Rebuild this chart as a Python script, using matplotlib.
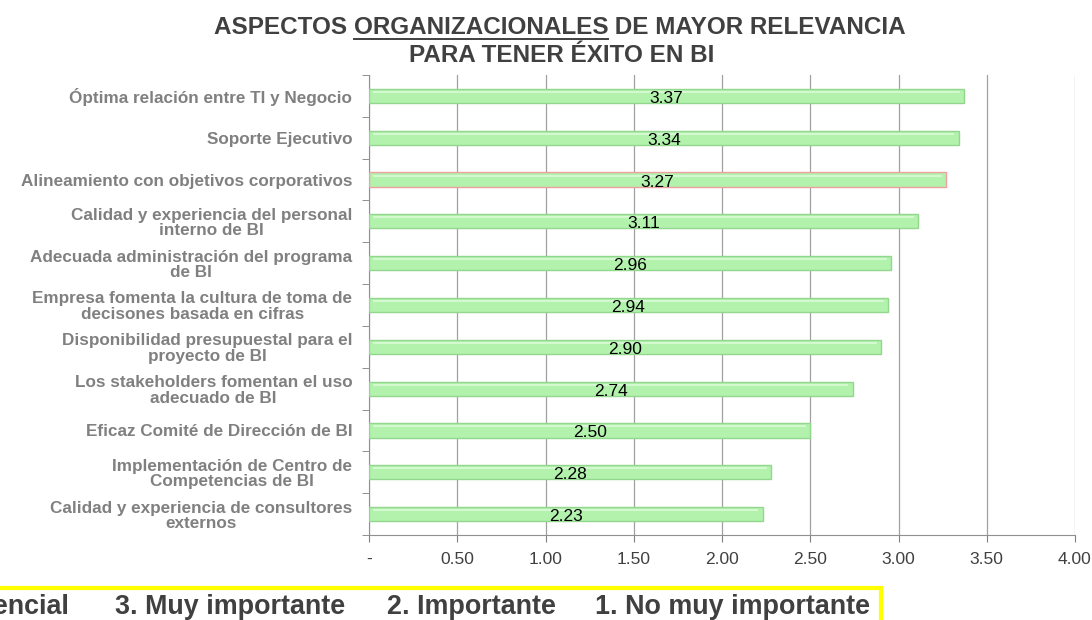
import numpy as np
import matplotlib.pyplot as plt
from matplotlib.patches import Rectangle
from matplotlib.lines import Line2D

plt.rcParams['font.family'] = ['Liberation Sans', 'DejaVu Sans']

# data
categorias = [
    "Óptima relación entre TI y Negocio",
    "Soporte Ejecutivo",
    "Alineamiento con objetivos corporativos",
    "Calidad y experiencia del personal\ninterno de BI",
    "Adecuada administración del programa\nde BI",
    "Empresa fomenta la cultura de toma de\ndecisones basada en cifras",
    "Disponibilidad presupuestal para el\nproyecto de BI",
    "Los stakeholders fomentan el uso\nadecuado de BI",
    "Eficaz Comité de Dirección de BI",
    "Implementación de Centro de\nCompetencias de BI",
    "Calidad y experiencia de consultores\nexternos",
]
valores = [3.37, 3.34, 3.27, 3.11, 2.96, 2.94, 2.90, 2.74, 2.50, 2.28, 2.23]
x_ticks = [0, 0.5, 1.0, 1.5, 2.0, 2.5, 3.0, 3.5, 4.0]
x_labels = ["-", "0.50", "1.00", "1.50", "2.00", "2.50", "3.00", "3.50", "4.00"]
escala = ["4. Esencial", "3. Muy importante", "2. Importante", "1. No muy importante"]

fig = plt.figure(figsize=(10.92, 6.2), dpi=100)
ax = fig.add_axes([369 / 1092, 1 - 535 / 620, (1075 - 369) / 1092, (535 - 75) / 620])

y = np.arange(len(valores))
bars = ax.barh(y, valores, height=0.34, color='#b2f2ad', edgecolor='#93d68e', linewidth=1, zorder=3)
bars[2].set_edgecolor('#f0a0a0')
# glossy highlight line inside each bar
for b, v in zip(bars, valores):
    ax.plot([0.03, v - 0.03], [b.get_y() + b.get_height() * 0.22] * 2, color='#dcfbd9', lw=1.2, zorder=4)
    ax.text(v / 2, b.get_y() + b.get_height() / 2 + 0.06, f"{v:.2f}", ha='center', va='center',
            fontsize=12.5, color='black', zorder=5)

ax.set_ylim(len(valores) - 0.5, -0.5)
ax.set_xlim(0, 4.0)
ax.set_xticks(x_ticks)
ax.set_xticklabels(x_labels, fontsize=12.5, color='#404040')
ax.set_yticks(y)
ax.set_yticklabels(categorias, fontsize=12.3, fontweight='bold', color='#808080', multialignment='center',
                   linespacing=1.05)
ax.set_yticks(np.arange(-0.5, len(valores), 1), minor=True)
ax.tick_params(axis='y', which='major', length=0, pad=12)
ax.tick_params(axis='y', which='minor', length=5, color='#808080')
ax.tick_params(axis='x', length=5, color='#808080', pad=7)
ax.grid(axis='x', color='#a0a0a0', lw=0.9, zorder=0)
for s in ['top', 'right']:
    ax.spines[s].set_visible(False)
for s in ['left', 'bottom']:
    ax.spines[s].set_color('#909090')

# title with underlined word
fig.canvas.draw()
r = fig.canvas.get_renderer()
partes = ["ASPECTOS ", "ORGANIZACIONALES", " DE MAYOR RELEVANCIA"]
kw = dict(fontsize=17.5, fontweight='bold', color='#404040')
tmp = [fig.text(0, 0, p, **kw) for p in partes]
anchos = [t.get_window_extent(r).width for t in tmp]
for t in tmp:
    t.remove()
x0 = 560 - sum(anchos) / 2
ytit = 620 - 27
for p, w in zip(partes, anchos):
    fig.text(x0 / 1092, ytit / 620, p, ha='left', va='center', **kw)
    if p == "ORGANIZACIONALES":
        fig.add_artist(Line2D([x0 / 1092, (x0 + w) / 1092], [(ytit - 12) / 620] * 2, color='#404040', lw=1.4))
    x0 += w
fig.text(562 / 1092, 1 - 55 / 620, "PARA TENER ÉXITO EN BI", ha='center', va='center', **kw)

# scale legend box at bottom
fig.add_artist(Rectangle((-0.02, -0.05), 881 / 1092 + 0.02, 0.05 + 1 - 588 / 620, fill=False,
                         edgecolor='#ffff00', lw=3, clip_on=False))
x_der = [69, 345, 556, 870]
for t, xr in zip(escala, x_der):
    fig.text(xr / 1092, 1 - 607 / 620, t, ha='right', va='center', fontsize=19.4, fontweight='bold',
             color='#404040')

fig.savefig('out.png', dpi=100)
